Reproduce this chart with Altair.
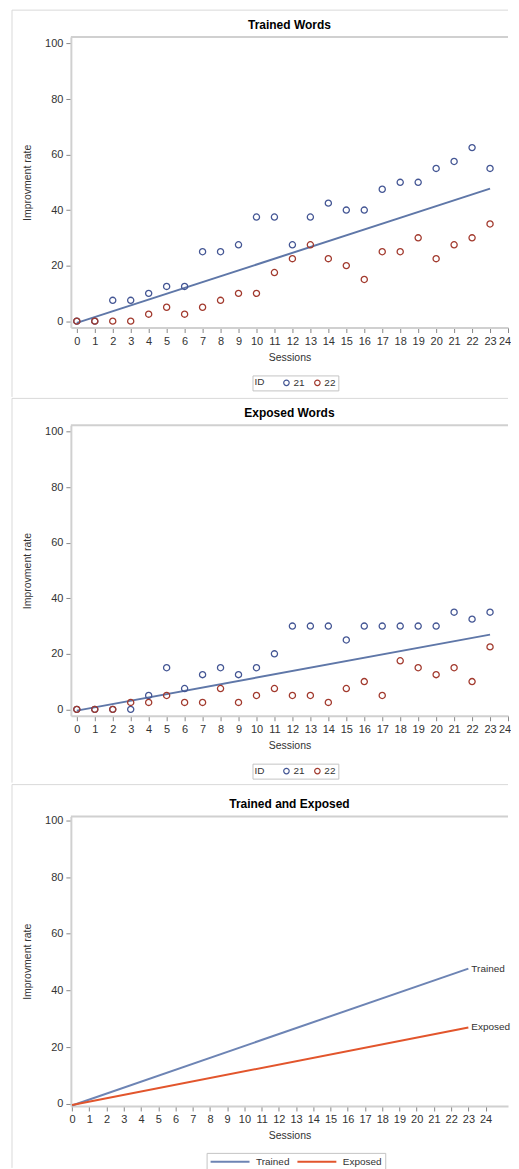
import altair as alt
import pandas as pd

# ---------------- data ----------------
sessions = list(range(24))
ids = ["21", "22"]
trained_21 = [0, 0, 7.5, 7.5, 10, 12.5, 12.5, 25, 25, 27.5, 37.5, 37.5,
              27.5, 37.5, 42.5, 40, 40, 47.5, 50, 50, 55, 57.5, 62.5, 55]
trained_22 = [0, 0, 0, 0, 2.5, 5, 2.5, 5, 7.5, 10, 10, 17.5,
              22.5, 27.5, 22.5, 20, 15, 25, 25, 30, 22.5, 27.5, 30, 35]
exposed_21 = [0, 0, 0, 0, 5, 15, 7.5, 12.5, 15, 12.5, 15, 20,
              30, 30, 30, 25, 30, 30, 30, 30, 30, 35, 32.5, 35]
exposed_22 = [0, 0, 0, 2.5, 2.5, 5, 2.5, 2.5, 7.5, 2.5, 5, 7.5,
              5, 5, 2.5, 7.5, 10, 5, 17.5, 15, 12.5, 15, 10, 22.5]
set_names = ["Trained", "Exposed"]
panel_titles = ["Trained Words", "Exposed Words", "Trained and Exposed"]
x_ticks = list(range(25))
y_ticks = [0, 20, 40, 60, 80, 100]


def make_df(a, b):
    return pd.DataFrame({
        "Session": sessions + sessions,
        "Rate": a + b,
        "ID": [ids[0]] * len(a) + [ids[1]] * len(b),
    })


trained_df = make_df(trained_21, trained_22)
exposed_df = make_df(exposed_21, exposed_22)
both_df = pd.concat([
    trained_df.assign(Set=set_names[0]),
    exposed_df.assign(Set=set_names[1]),
], ignore_index=True)

# ---------------- style ----------------
FONT = "Liberation Sans"
TXT = "#333333"
FRAME = "#d0d0d0"
BORDER = "#d9d9d9"
BLUE = "#445694"
RED = "#a23a2e"
FIT = "#5f77a8"
TRAINED_C = "#6d84b4"
EXPOSED_C = "#e2552c"
W = 438


def frame_layers(title, top_rel, bottom_rel, title_y):
    one = pd.DataFrame({"t": [title]})
    top_line = alt.Chart(one).mark_rule(color=FRAME, strokeWidth=2).encode(
        x=alt.value(0), x2=alt.value(W), y=alt.value(0))
    sep = alt.Chart(one).mark_rule(color=BORDER, strokeWidth=1).encode(
        x=alt.value(-59), x2=alt.value(W), y=alt.value(top_rel))
    left = alt.Chart(one).mark_rule(color=BORDER, strokeWidth=1).encode(
        x=alt.value(-59), y=alt.value(top_rel), y2=alt.value(bottom_rel))
    ttl = alt.Chart(one).mark_text(font=FONT, fontSize=12, fontWeight="bold",
                                   color="#000000", align="center",
                                   baseline="middle").encode(
        x=alt.value(W / 2), y=alt.value(title_y), text="t:N")
    return [top_line, sep, left, ttl]


def x_enc(dom, nudge_last):
    extra = {}
    if nudge_last:
        extra["labelOffset"] = alt.condition("datum.value >= 24",
                                             alt.value(-3.5), alt.value(0))
    return alt.X("Session:Q",
                 scale=alt.Scale(domain=dom, nice=False, zero=False),
                 axis=alt.Axis(values=x_ticks, title="Sessions", format="d",
                               labelPadding=3, titlePadding=6, labelFlush=False,
                               labelOverlap=False, **extra))


def y_enc(dom):
    return alt.Y("Rate:Q",
                 scale=alt.Scale(domain=dom, nice=False, zero=False),
                 axis=alt.Axis(values=y_ticks, title="Improvment rate",
                               labelPadding=3, titlePadding=12))


def scatter_panel(df, title, bottom_rel):
    xd = [-0.33, 24.0]
    yd = [-2.3, 102.3]
    fit = alt.Chart(df).transform_regression("Session", "Rate").mark_line(
        color=FIT, strokeWidth=2).encode(x=x_enc(xd, True), y=y_enc(yd))
    pts = alt.Chart(df).mark_point(shape="circle", filled=False, size=38,
                                   strokeWidth=1.3, opacity=1).encode(
        x=x_enc(xd, True), y=y_enc(yd),
        color=alt.Color("ID:N", scale=alt.Scale(domain=ids, range=[BLUE, RED]),
                        legend=alt.Legend(
                            orient="none", legendX=182, legendY=339,
                            direction="horizontal", title="ID", titleOrient="left",
                            titlePadding=17, titleFontWeight="normal",
                            strokeColor="#c4c4c4", padding=2,
                            symbolType="circle", symbolSize=30,
                            symbolStrokeWidth=1.2, labelOffset=2,
                            columnPadding=6)))
    return alt.layer(*frame_layers(title, -27, bottom_rel, -12), fit, pts).properties(
        width=W, height=291)


p1 = scatter_panel(trained_df, panel_titles[0], 360.5)
p2 = scatter_panel(exposed_df, panel_titles[1], 358)

# third panel
xd3 = [-0.07, 25.3]
yd3 = [-0.8, 101.4]
lines = alt.Chart(both_df).transform_regression(
    "Session", "Rate", groupby=["Set"]).mark_line(strokeWidth=2).encode(
    x=x_enc(xd3, False), y=y_enc(yd3),
    color=alt.Color("Set:N", scale=alt.Scale(domain=set_names,
                                             range=[TRAINED_C, EXPOSED_C]),
                    legend=alt.Legend(
                        orient="none", legendX=136, legendY=337,
                        direction="horizontal", title=None,
                        strokeColor="#c4c4c4", padding=3,
                        symbolType="M-1,0H6.8", symbolSize=100,
                        symbolStrokeWidth=2, labelOffset=34.5,
                        columnPadding=3)))
labels = alt.Chart(both_df).transform_regression(
    "Session", "Rate", groupby=["Set"]).transform_filter(
    "datum.Session >= 23").mark_text(align="left", baseline="middle", dx=3,
                                       font=FONT, fontSize=10, color=TXT).encode(
    x=x_enc(xd3, False), y=y_enc(yd3), text="Set:N")
p3 = alt.layer(*frame_layers(panel_titles[2], -32, 352, -13), lines, labels).properties(
    width=W, height=290)

chart = alt.vconcat(p1, p2, p3, spacing=0).resolve_scale(
    color="independent", x="independent", y="independent"
).resolve_legend(color="independent").properties(
    padding={"left": 3, "top": 0, "right": 0, "bottom": 0}
).configure_view(stroke=None).configure_axis(
    labelFont=FONT, titleFont=FONT, labelFontSize=11, titleFontSize=10.5,
    labelColor=TXT, titleColor=TXT, titleFontWeight="normal",
    tickColor="#888888", tickSize=5, domainColor=FRAME, domainWidth=2,
    grid=False
).configure_legend(
    labelFont=FONT, titleFont=FONT, labelFontSize=10, titleFontSize=10,
    labelColor=TXT, titleColor=TXT
)

chart.save("out.html", embed_options={"renderer": "svg", "actions": False})
